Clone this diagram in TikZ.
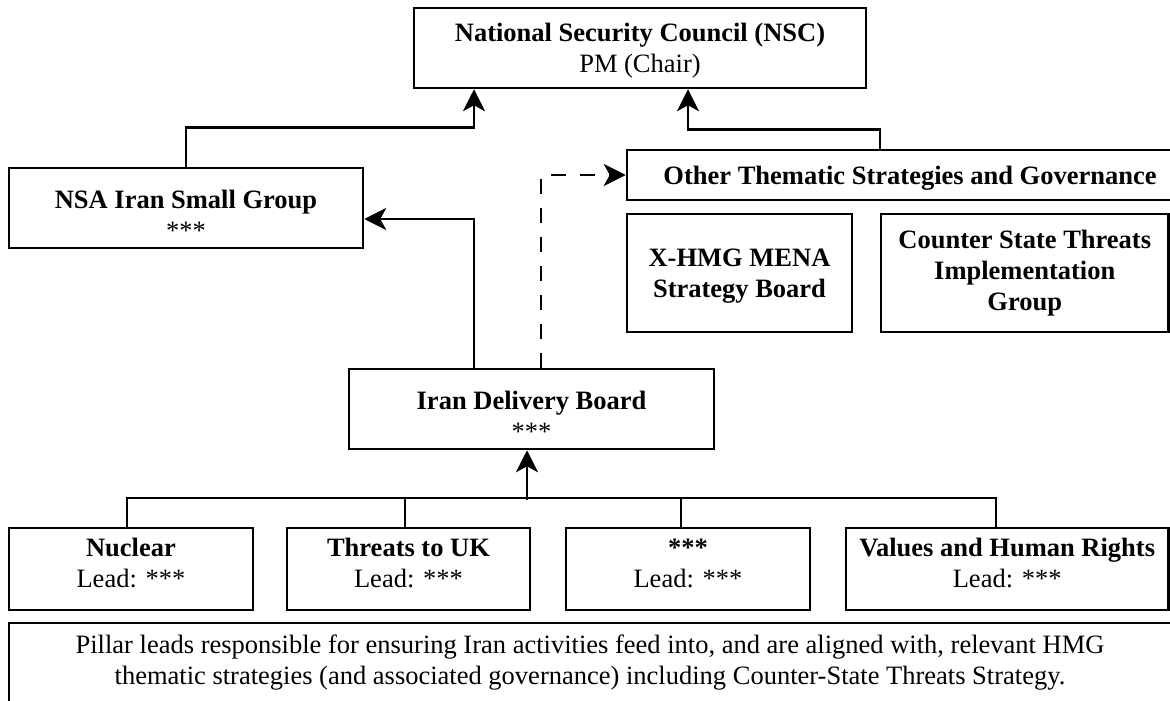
\documentclass[tikz,border=0pt]{standalone}
\usepackage{fontspec}
\setmainfont{Liberation Serif}
\usetikzlibrary{arrows.meta,calc}
\begin{document}
\begin{tikzpicture}[x=1pt,y=-1pt,
  box/.style={draw,line width=2.5pt,inner sep=0pt,align=center,font=\fontsize{26.5}{31}\selectfont},
  line/.style={line width=2.5pt},
  arr/.style={line width=2.5pt,-{Stealth[length=22pt,width=22pt,inset=6pt]}},
  darr/.style={line width=2.5pt,dash pattern=on 15pt off 14pt,-{Stealth[length=22pt,width=22pt,inset=6pt]}}]
\clip (0,0) rectangle (1170,701);
\fill[white] (0,0) rectangle (1170,701);
\node[box,minimum width=452pt,minimum height=80pt] (nsc) at (640,48) {\rule{0pt}{24pt}\textbf{National Security Council (NSC)}\\PM (Chair)};
\node[box,minimum width=354pt,minimum height=80pt] (nsa) at (186,208) {\rule{0pt}{32pt}\textbf{NSA Iran Small Group}\\***};
\node[box,minimum width=566pt,minimum height=50pt] (oth) at (910,175) {\rule{0pt}{25pt}\textbf{Other Thematic Strategies and Governance}};
\node[box,minimum width=225pt,minimum height=118pt] (mena) at (739.5,273) {\rule{0pt}{24pt}\textbf{X-HMG MENA}\\\textbf{Strategy Board}};
\node[box,minimum width=287.5pt,minimum height=118pt] (cst) at (1024.75,273) {\textbf{Counter State Threats}\\\textbf{Implementation}\\\textbf{Group}};
\node[box,minimum width=365pt,minimum height=80pt] (idb) at (531.5,409) {\rule{0pt}{32pt}\textbf{Iran Delivery Board}\\***};
\node[box,minimum width=244pt,minimum height=82pt] (nuc) at (131,569) {\textbf{Nuclear}\\Lead: ***\rule[-12pt]{0pt}{12pt}};
\node[box,minimum width=243pt,minimum height=82pt] (thr) at (408.5,569) {\textbf{Threats to UK}\\Lead: ***\rule[-12pt]{0pt}{12pt}};
\node[box,minimum width=244pt,minimum height=82pt] (star) at (688,569) {\textbf{***}\\Lead: ***\rule[-12pt]{0pt}{12pt}};
\node[box,minimum width=322.5pt,minimum height=82pt] (val) at (1007.25,569) {\textbf{Values and Human Rights}\\Lead: ***\rule[-12pt]{0pt}{12pt}};
\node[box,minimum width=1162pt,minimum height=80pt] (note) at (590,663) {Pillar leads responsible for ensuring Iran activities feed into, and are aligned with, relevant HMG\\thematic strategies (and associated governance) including Counter-State Threats Strategy.};
% connectors
\draw[arr] (nsa.north) |- ([xshift=-166pt,yshift=-38pt]nsc.south) -- ([xshift=-166pt]nsc.south);
\draw[arr] ([xshift=-30pt]oth.north) |- ([xshift=48pt,yshift=-40pt]nsc.south) -- ([xshift=48pt]nsc.south);
\draw[arr] ([xshift=-57.5pt]idb.north) |- ([yshift=-11pt]nsa.east);
\draw[darr] ([xshift=9.5pt]idb.north) |- (oth.west);
\draw[line] ([xshift=-4pt]nuc.north) -- ++(0,29pt) -| ([xshift=-11.25pt]val.north);
\draw[line] ([xshift=-3.5pt]thr.north) -- ++(0,29pt);
\draw[line] ([xshift=-7pt]star.north) -- ++(0,29pt);
\draw[arr] ([xshift=-4.5pt,yshift=-50pt]idb.south) -- ([xshift=-4.5pt]idb.south);
\end{tikzpicture}
\end{document}
